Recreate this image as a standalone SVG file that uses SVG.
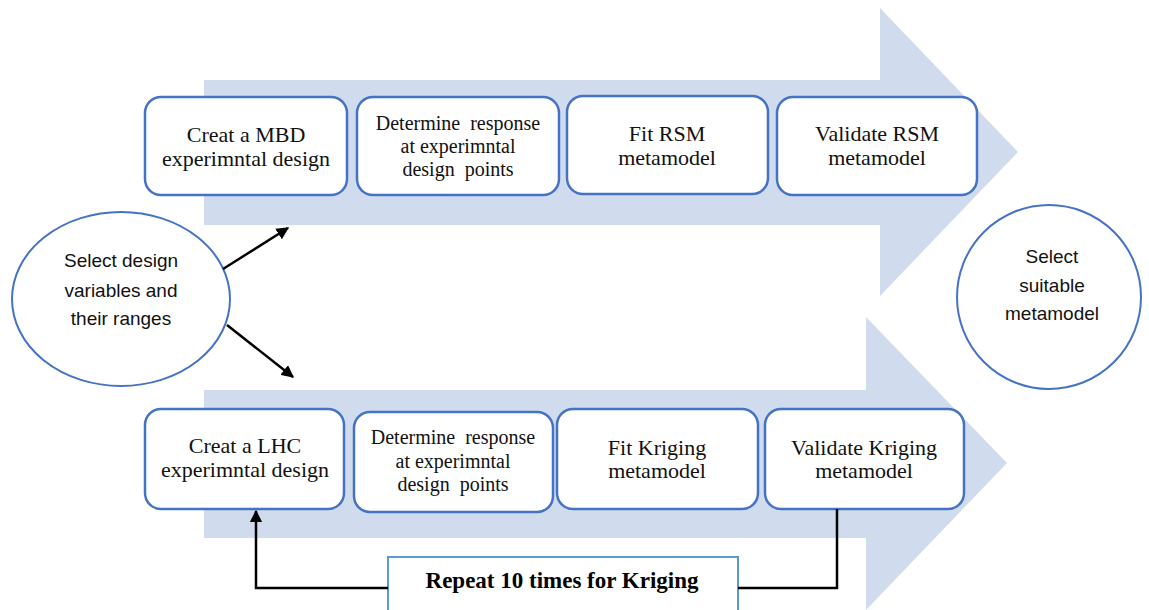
<svg xmlns="http://www.w3.org/2000/svg" width="1149" height="610" viewBox="0 0 1149 610">
<style>
.bg{fill:#D0DCEE}
.box{fill:#fff;stroke:#4472C4;stroke-width:2.5}
.ell{fill:#fff;stroke:#4472C4;stroke-width:2}
.t{font-family:"Liberation Serif","Times New Roman",serif;font-size:22px;fill:#111;text-anchor:middle}
.t3{font-family:"Liberation Serif","Times New Roman",serif;font-size:20px;fill:#111;text-anchor:middle}
.s{font-family:"Liberation Sans",Arial,sans-serif;font-size:19px;fill:#111;text-anchor:middle}
.rep{font-family:"Liberation Serif","Times New Roman",serif;font-size:23px;font-weight:bold;fill:#000;text-anchor:middle}
.con{fill:none;stroke:#000;stroke-width:2.5}
</style>
<defs>
<marker id="ah" viewBox="0 0 10 10" refX="9" refY="5" markerWidth="5" markerHeight="5" orient="auto" markerUnits="strokeWidth">
<path d="M0,0 L10,5 L0,10 z" fill="#000"/>
</marker>
</defs>
<g id="bigarrows">
<polygon class="bg" points="204,80 880,80 880,8 1018,152 880,296 880,225 204,225"/>
<polygon class="bg" points="204,390 866,390 866,317 1007,463 866,610 866,538 204,538"/>
</g>
<g id="n-select-vars">
<ellipse class="ell" cx="121" cy="299" rx="109" ry="87"/>
<text class="s" x="121" y="267">Select design</text>
<text class="s" x="121" y="297">variables and</text>
<text class="s" x="121" y="325">their ranges</text>
</g>
<g id="n-mbd">
<rect class="box" x="145" y="97" width="202" height="98" rx="16"/>
<text class="t" x="246" y="142">Creat a MBD</text>
<text class="t" x="246" y="166">experimntal design</text>
</g>
<g id="n-resp-top">
<rect class="box" x="357" y="97" width="202" height="98" rx="16"/>
<text class="t3" x="458" y="130" xml:space="preserve">Determine  response</text>
<text class="t3" x="458" y="153">at experimntal</text>
<text class="t3" x="458" y="176" xml:space="preserve">design  points</text>
</g>
<g id="n-fit-rsm">
<rect class="box" x="567" y="96" width="201" height="98" rx="16"/>
<text class="t" x="667" y="141">Fit RSM</text>
<text class="t" x="667" y="165">metamodel</text>
</g>
<g id="n-val-rsm">
<rect class="box" x="777" y="97" width="200" height="98" rx="16"/>
<text class="t" x="877" y="141">Validate RSM</text>
<text class="t" x="877" y="165">metamodel</text>
</g>
<g id="n-lhc">
<rect class="box" x="145" y="409" width="199" height="100" rx="16"/>
<text class="t" x="245" y="453">Creat a LHC</text>
<text class="t" x="245" y="477">experimntal design</text>
</g>
<g id="n-resp-bot">
<rect class="box" x="354" y="412" width="199" height="100" rx="16"/>
<text class="t3" x="453" y="444" xml:space="preserve">Determine  response</text>
<text class="t3" x="453" y="468">at experimntal</text>
<text class="t3" x="453" y="491" xml:space="preserve">design  points</text>
</g>
<g id="n-fit-kriging">
<rect class="box" x="557" y="409" width="201" height="100" rx="16"/>
<text class="t" x="657" y="455">Fit Kriging</text>
<text class="t" x="657" y="478">metamodel</text>
</g>
<g id="n-val-kriging">
<rect class="box" x="765" y="409" width="199" height="100" rx="16"/>
<text class="t" x="864" y="455">Validate Kriging</text>
<text class="t" x="864" y="478">metamodel</text>
</g>
<g id="n-select-meta">
<ellipse class="ell" cx="1049" cy="297" rx="92" ry="92"/>
<text class="s" x="1052" y="263">Select</text>
<text class="s" x="1052" y="292">suitable</text>
<text class="s" x="1052" y="320">metamodel</text>
</g>
<g id="n-repeat">
<rect x="388" y="557" width="350" height="60" fill="#fff" stroke="#5B9BD5" stroke-width="2"/>
<text class="rep" x="562" y="588">Repeat 10 times for Kriging</text>
</g>
<g id="connectors">
<line class="con" x1="223" y1="269" x2="288" y2="228" marker-end="url(#ah)"/>
<line class="con" x1="227" y1="325" x2="293" y2="377" marker-end="url(#ah)"/>
<polyline class="con" points="388,588 256,588 256,511" marker-end="url(#ah)"/>
<polyline class="con" points="738,588 837,588 837,509"/>
</g>
</svg>
